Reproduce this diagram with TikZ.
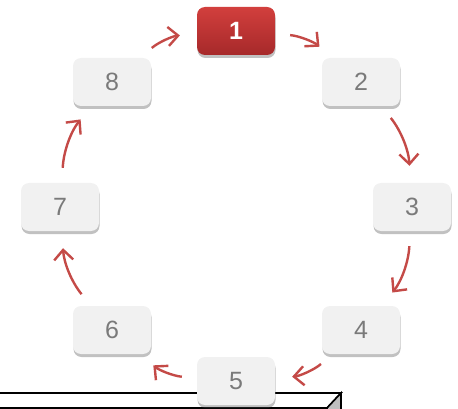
\documentclass[tikz,border=0pt]{standalone}
\usepackage{fontspec}
\setmainfont{Liberation Sans}
\usepackage{xcolor}
\definecolor{cyclered}{HTML}{C44A47}
\definecolor{boxredtop}{HTML}{D23F3D}
\definecolor{boxredbot}{HTML}{A6292A}
\definecolor{boxgray}{HTML}{F1F1F1}
\usepackage{tikz}
\usetikzlibrary{arrows.meta, shadows}

\begin{document}
\begin{tikzpicture}[
  x=1pt, y=-1pt,
  font=\fontsize{25}{30}\selectfont,
  box/.style={rounded corners=8pt, minimum width=78pt, minimum height=48pt,
              inner sep=0pt, draw=none,
              drop shadow={shadow xshift=0.5pt, shadow yshift=-3pt, opacity=0.35, fill=black!70}},
  graybox/.style={box, fill=boxgray, text=black!52},
  redbox/.style={box, top color=boxredtop, bottom color=boxredbot, text=white, font=\fontsize{25}{30}\selectfont\bfseries},
  arr/.style={-{Straight Barb[length=10pt, width=19pt]}, line width=2.4pt, draw=cyclered,
              shorten <=15pt, shorten >=17pt, bend left=18}
]
\useasboundingbox (0,0) rectangle (458,409);
\clip (0,0) rectangle (458,409);

% box edge at the bottom
\draw[line width=1.6pt, fill=white] (-5,393) -- (341,393) -- (327,408) -- (-5,408) -- cycle;
\draw[line width=1.6pt, fill=black!25] (341,393) -- (341,420) -- (327,435) -- (327,408) -- cycle;

\node[redbox] (n1) at (236,31) {1};
\node[graybox] (n2) at (361,82) {2};
\node[graybox] (n3) at (412,207) {3};
\node[graybox] (n4) at (361,330) {4};
\node[graybox] (n5) at (236,381) {5};
\node[graybox] (n6) at (112,330) {6};
\node[graybox] (n7) at (60,207) {7};
\node[graybox] (n8) at (112,82) {8};

\draw[arr] (n1) to (n2);
\draw[arr] (n2) to (n3);
\draw[arr] (n3) to (n4);
\draw[arr] (n4) to (n5);
\draw[arr] (n5) to (n6);
\draw[arr] (n6) to (n7);
\draw[arr] (n7) to (n8);
\draw[arr] (n8) to (n1);
\end{tikzpicture}
\end{document}
